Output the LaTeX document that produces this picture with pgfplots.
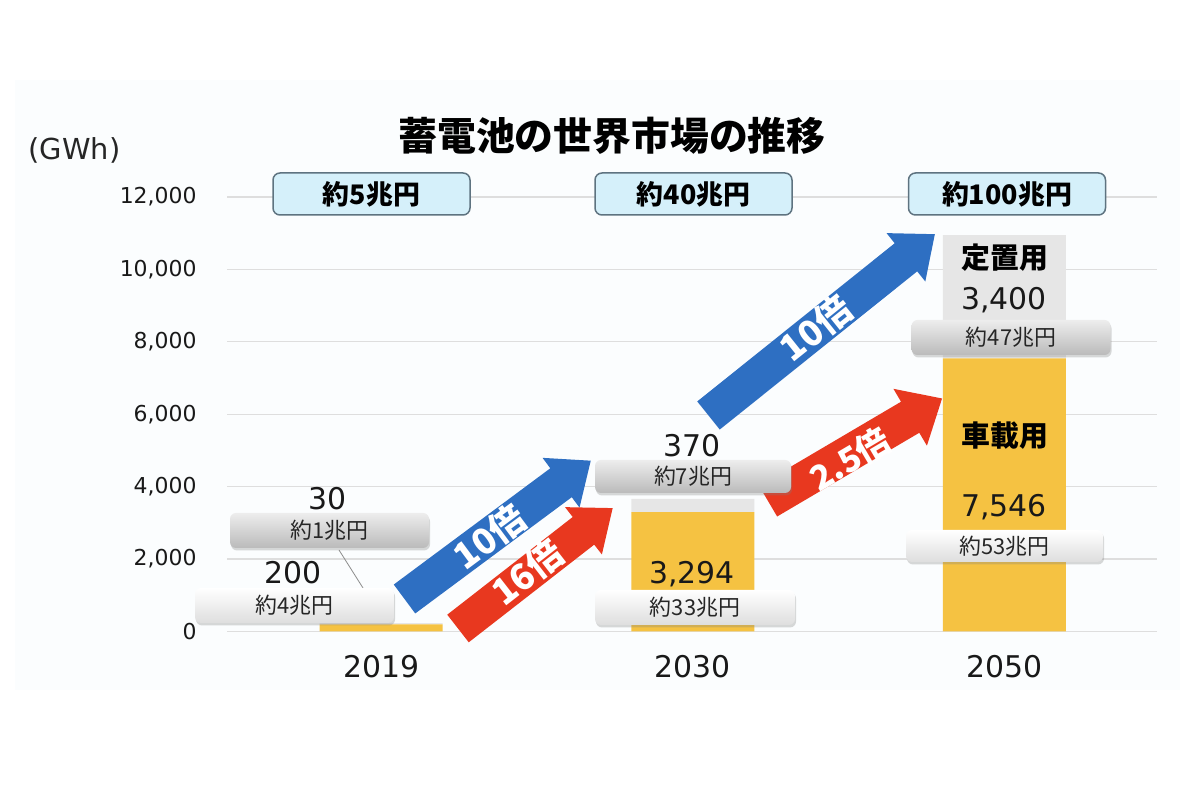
\documentclass[border=0pt]{standalone}
\usepackage{fontspec}
\usepackage{pgfplots}
\pgfplotsset{compat=1.18}
\usetikzlibrary{shadows}
\setmainfont{DejaVu Sans}
\newfontfamily\jp{Noto Sans CJK JP}
\definecolor{baryellow}{HTML}{F5C242}
\definecolor{bargrey}{HTML}{E6E6E6}
\definecolor{arrblue}{HTML}{2E6FC2}
\definecolor{arrred}{HTML}{E8381F}
\definecolor{boxblue}{HTML}{D5F0FA}
\definecolor{boxedge}{HTML}{5E7380}
\definecolor{panel}{HTML}{FBFDFE}
\newcommand{\blockarrow}[7]{%
\begin{scope}[shift={(#2,#3)}, rotate=#4]
\fill[#1] (0,-#6) -- ({#5-37},-#6) -- ({#5-37},-#7) -- (#5,0) -- ({#5-37},#7) -- ({#5-37},#6) -- (0,#6) -- cycle;
\end{scope}}
\begin{document}
\begin{tikzpicture}
\begin{scope}[x=1bp,y=1bp]
\path[use as bounding box, fill=white] (0,0) rectangle (1198,800);
\fill[panel] (15,110) rectangle (1180,720);
\end{scope}
\begin{axis}[
  at={(227bp,168.5bp)}, anchor=south west,
  scale only axis, width=930bp, height=434.5bp,
  xmin=-0.495, xmax=2.49, ymin=0, ymax=12000,
  ybar stacked, bar width=123bp,
  xtick={0,1,2}, xticklabels={2019,2030,2050},
  ytick={0,2000,4000,6000,8000,10000,12000},
  /pgf/number format/assume math mode=true,
  /pgf/number format/1000 sep={,},
  scaled y ticks=false,
  ymajorgrids, grid style={draw=black!13, line width=1.2bp},
  axis line style={draw=none}, major tick length=0pt,
  yticklabel style={font=\fontsize{22}{22}\selectfont, xshift=-27bp, text=black!90},
  xticklabel style={font=\fontsize{30}{30}\selectfont, yshift=-20bp, text=black!90},
]
\addplot[fill=baryellow, draw=none] coordinates {(0,200) (1,3294) (2,7546)};
\addplot[fill=bargrey, draw=none] coordinates {(0,30) (1,370) (2,3400)};
\end{axis}
\begin{scope}[x=1bp,y=1bp,
  topbox/.style={draw=boxedge, line width=1.5bp, fill=boxblue, rounded corners=7bp, minimum width=197bp, minimum height=42bp, inner sep=0pt, font=\jp\bfseries\fontsize{27}{27}\selectfont},
  lightbox/.style={rounded corners=6bp, top color=white, bottom color=black!13, minimum width=199bp, minimum height=35bp, inner sep=0pt, drop shadow={opacity=0.3, shadow xshift=1bp, shadow yshift=-2.5bp}, font=\jp\fontsize{22}{22}\selectfont, text=black!85},
  darkbox/.style={rounded corners=6bp, top color=black!7, bottom color=black!27, minimum width=199bp, minimum height=35bp, inner sep=0pt, drop shadow={opacity=0.3, shadow xshift=1bp, shadow yshift=-2.5bp}, font=\jp\fontsize{22}{22}\selectfont, text=black!85},
  num/.style={font=\fontsize{30}{30}\selectfont, text=black!90, inner sep=0pt},
  arrtext/.style={text=white, font=\jp\bfseries\fontsize{36}{36}\selectfont, inner sep=0pt}]
% title and unit
\node[font=\jp\bfseries\fontsize{39}{39}\selectfont] at (612,664) {蓄電池の世界市場の推移};
\node[font=\fontsize{29}{29}\selectfont, text=black!85] at (74.5,650) {(GWh)};
% top boxes
\node[topbox] at (371.5,606) {約5兆円};
\node[topbox] at (693.5,606) {約40兆円};
\node[topbox] at (1007,606) {約100兆円};
% arrows
\blockarrow{arrblue}{404.5}{201}{36.6}{232}{18}{31}
\blockarrow{arrred}{458}{171.5}{37.9}{196}{17.5}{30}
\blockarrow{arrblue}{708.5}{384.5}{38.7}{290}{18}{31}
\blockarrow{arrred}{768}{299}{30.5}{202}{18}{33}
\node[arrtext, rotate=36.6] at (489.5,263.5) {10倍};
\node[arrtext, rotate=37.9] at (527.5,227.5) {16倍};
\node[arrtext, rotate=38.7] at (815.5,471.5) {10倍};
\node[arrtext, rotate=30.5, font=\jp\bfseries\fontsize{34}{34}\selectfont] at (850,341) {2.5倍};
% 2019 labels
\draw[black!45, line width=0.8bp] (339,250) -- (363,212);
\node[num] at (328,301) {30};
\node[darkbox] at (329.5,269.5) {約1兆円};
\node[num] at (293.5,227) {200};
\node[lightbox] at (294.5,194.5) {約4兆円};
% 2030 labels
\node[num] at (692,354) {370};
\node[darkbox, minimum width=196bp, minimum height=33bp] at (693,323.5) {約7兆円};
\node[num] at (692,226) {3,294};
\node[lightbox, minimum width=200bp] at (695,192.5) {約33兆円};
% 2050 labels
\node[font=\jp\bfseries\fontsize{29}{29}\selectfont] at (1005,542) {定置用};
\node[num] at (1004,500) {3,400};
\node[darkbox] at (1011,462.5) {約47兆円};
\node[font=\jp\bfseries\fontsize{29}{29}\selectfont] at (1005,364) {車載用};
\node[num] at (1004,293) {7,546};
\node[lightbox, minimum width=197bp, minimum height=32bp] at (1004.5,254) {約53兆円};
\end{scope}
\end{tikzpicture}
\end{document}
